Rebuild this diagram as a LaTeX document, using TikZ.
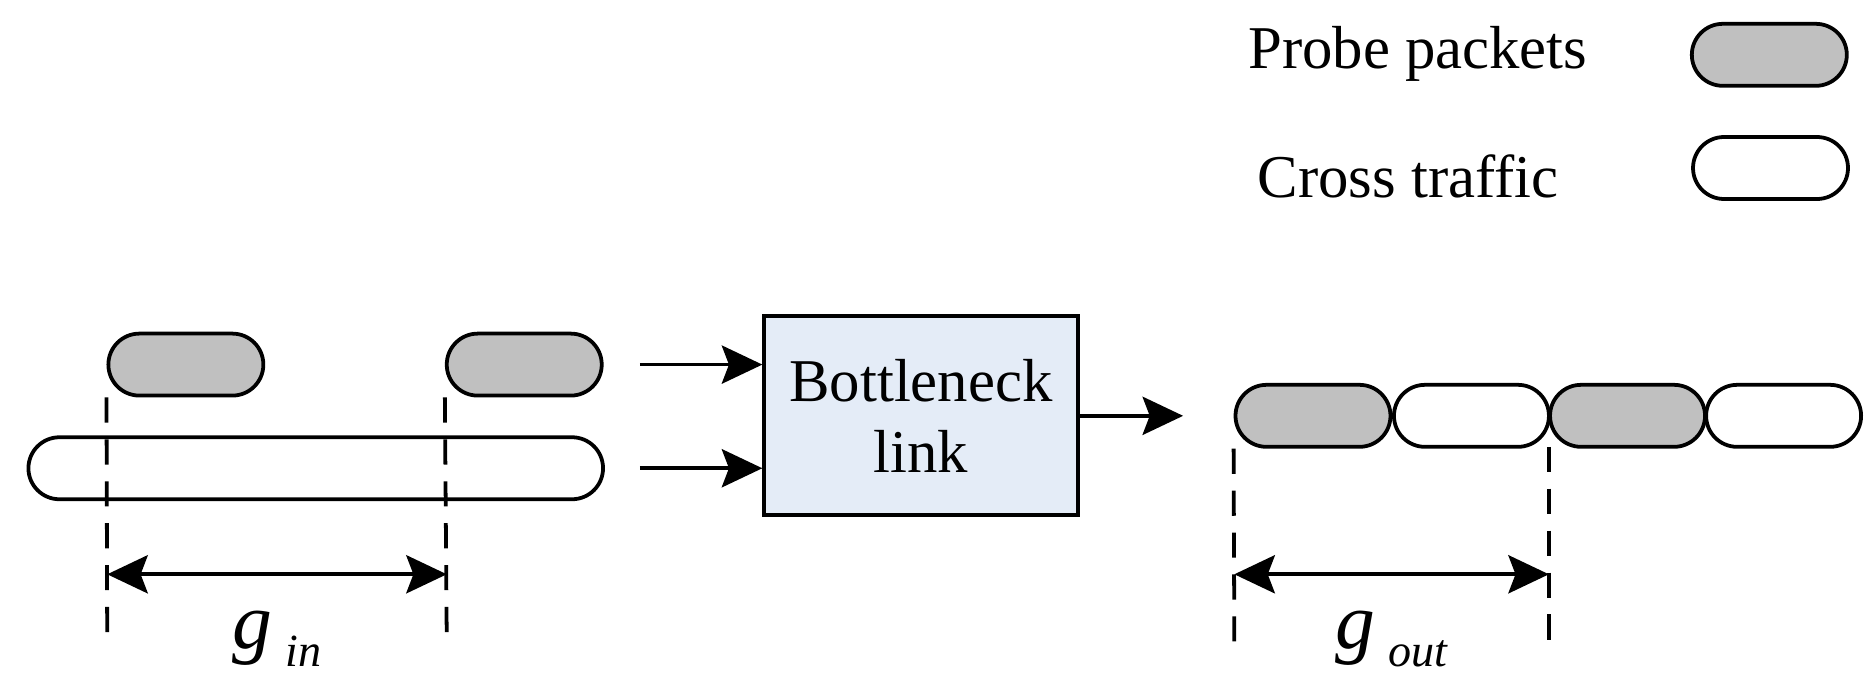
\documentclass[tikz,border=0pt]{standalone}
\usepackage{fontspec}
\setmainfont{Liberation Serif}
\usetikzlibrary{arrows.meta,shapes.misc}
\definecolor{boxblue}{HTML}{E4ECF7}
\definecolor{probegray}{HTML}{C0C0C0}
\begin{document}
\begin{tikzpicture}[x=0.01cm,y=-0.01cm,line width=0.9pt,
  font=\fontsize{14.5}{17}\selectfont,
  pkt/.style={rounded rectangle,draw,minimum width=1.3cm,minimum height=0.52cm,inner sep=0pt},
  probe/.style={pkt,fill=probegray},
  cross/.style={pkt,fill=white},
  tip/.style={-{Stealth[length=0.34cm,width=0.32cm,inset=0.06cm]}},
  gap/.style={{Stealth[length=0.34cm,width=0.32cm,inset=0.06cm]}-{Stealth[length=0.34cm,width=0.32cm,inset=0.06cm]}},
  guide/.style={dashed,dash pattern=on 6pt off 4pt}]
  \useasboundingbox (0,0) rectangle (1567,566);
  % legend
  \node (lprobe) at (1190,45) {Probe packets};
  \node[probe] (lprobepkt) at (1485,46) {};
  \node (lcross) at (1182,148) {Cross traffic};
  \node[cross] (lcrosspkt) at (1486,141) {};
  % input stream
  \node[probe] (pin1) at (156,306) {};
  \node[probe] (pin2) at (440,306) {};
  \node[pkt,minimum width=4.82cm] (cin) at (265,393) {};
  % bottleneck
  \node[draw,fill=boxblue,minimum width=2.63cm,minimum height=1.67cm,align=center] (link) at (773,349) {Bottleneck\\link};
  \coordinate (a1) at (537,306);
  \coordinate (a2) at (537,393);
  \coordinate (a3) at (993,349);
  \draw[tip] (a1) -- (a1 -| link.west);
  \draw[tip] (a2) -- (a2 -| link.west);
  \draw[tip] (link.east |- a3) -- (a3);
  % output stream
  \node[probe] (pout1) at (1102,349) {};
  \node[cross] (cout1) at (1235,349) {};
  \node[probe] (pout2) at (1366,349) {};
  \node[cross] (cout2) at (1497,349) {};
  % gaps
  \coordinate (din1) at (90,542);
  \coordinate (din2) at (375,542);
  \coordinate (dout1) at (1036,542);
  \coordinate (dout2) at (1300,542);
  \draw[guide] (pin1.west |- pin1.south) -- (din1);
  \draw[guide] (pin2.west |- pin2.south) -- (din2);
  \draw[guide] (pout1.west |- pout1.south) -- (dout1);
  \draw[guide] (1300,375) -- (dout2);
  \draw[gap] (90,482) -- node[below=5pt] (gin) {\fontsize{19}{19}\selectfont\itshape g\,\raisebox{-0.5ex}{\fontsize{11}{11}\selectfont in}} (375,482);
  \draw[gap] (1036,482) -- node[below=5pt] (gout) {\fontsize{19}{19}\selectfont\itshape g\,\raisebox{-0.5ex}{\fontsize{11}{11}\selectfont out}} (1300,482);
\end{tikzpicture}
\end{document}
